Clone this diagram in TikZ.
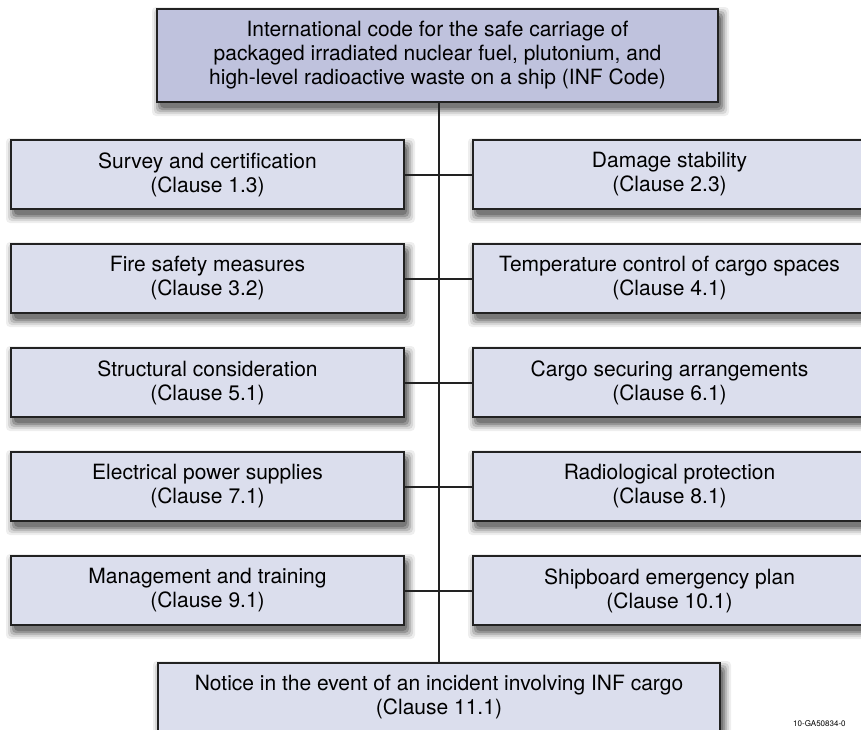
\documentclass[tikz,border=0pt]{standalone}
\usepackage{fontspec}
\setmainfont{TeX Gyre Heros}

\definecolor{topfill}{RGB}{191,194,221}
\definecolor{boxfill}{RGB}{219,222,237}
\definecolor{boxline}{RGB}{34,34,34}
\definecolor{shadeA}{RGB}{238,238,238}
\definecolor{shadeB}{RGB}{215,215,215}
\definecolor{shadeC}{RGB}{185,185,185}
\definecolor{shadeD}{RGB}{150,150,150}
\definecolor{shadeE}{RGB}{120,120,120}

\tikzset{
    clausebox/.style={draw=boxline, line width=2pt, fill=boxfill,
        minimum width=393pt, minimum height=69pt, inner sep=0pt,
        align=center, font=\fontsize{21}{24}\selectfont},
    link/.style={draw=boxline, line width=2pt}}

\begin{document}
\begin{tikzpicture}[x=1pt, y=-1pt]
\useasboundingbox (0,0) rectangle (861,729);
% shadows (corners of each box, then rings from light to dark)
\foreach \xa/\ya/\xb/\yb in {157/9/718/102, 11/140/404/209, 11/244/404/313,
        11/348/404/417, 11/452/404/521, 11/556/404/625, 473/140/866/209,
        473/244/866/313, 473/348/866/417, 473/452/866/521, 473/556/866/625,
        158/663/720/732}
    \foreach \s/\c in {8/shadeA, 6/shadeB, 4/shadeC, 2/shadeD, 0/shadeE}
        \path[fill=\c, rounded corners=4pt]
            (\xa+3-\s, \ya+6-\s) rectangle (\xb+3+\s, \yb+6+\s);
% title box
\node[clausebox, fill=topfill, minimum width=561pt, minimum height=93pt]
    (code) at (437.5,55.5) {International code for the safe carriage of\\
    packaged irradiated nuclear fuel, plutonium, and\\
    high-level radioactive waste on a ship (INF Code)};
% left column
\node[clausebox] (survey) at (207.5,174.5) {Survey and certification\\(Clause 1.3)};
\node[clausebox] (fire)   at (207.5,278.5) {Fire safety measures\\(Clause 3.2)};
\node[clausebox] (struct) at (207.5,382.5) {Structural consideration\\(Clause 5.1)};
\node[clausebox] (power)  at (207.5,486.5) {Electrical power supplies\\(Clause 7.1)};
\node[clausebox] (train)  at (207.5,590.5) {Management and training\\(Clause 9.1)};
% right column
\node[clausebox] (damage) at (669.5,174.5) {Damage stability\\(Clause 2.3)};
\node[clausebox] (temp)   at (669.5,278.5) {Temperature control of cargo spaces\\(Clause 4.1)};
\node[clausebox] (secure) at (669.5,382.5) {Cargo securing arrangements\\(Clause 6.1)};
\node[clausebox] (radio)  at (669.5,486.5) {Radiological protection\\(Clause 8.1)};
\node[clausebox] (plan)   at (669.5,590.5) {Shipboard emergency plan\\(Clause 10.1)};
% bottom box
\node[clausebox, minimum width=562pt] (notice) at (439,697.5)
    {Notice in the event of an incident involving INF cargo\\(Clause 11.1)};
% connectors
\draw[link] (code.south -| 439,0) -- (notice.north -| 439,0);
\foreach \l/\r in {survey/damage, fire/temp, struct/secure, power/radio, train/plan}
    \draw[link] (\l) -- (\r);
\node[anchor=north west, inner sep=0pt, font=\fontsize{8}{9}\selectfont]
    (ref) at (793,720) {10-GA50834-0};
\end{tikzpicture}
\end{document}
